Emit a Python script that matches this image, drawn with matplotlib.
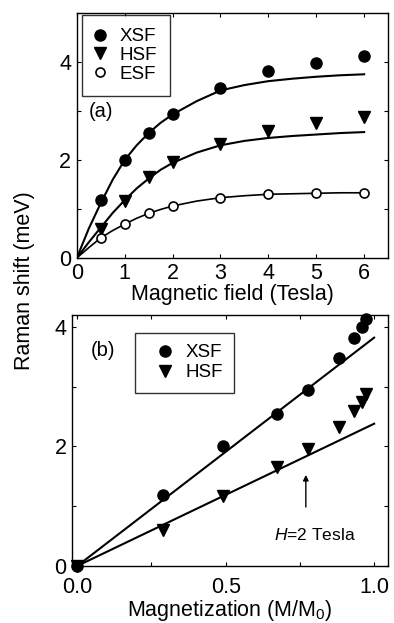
import matplotlib.pyplot as plt
from matplotlib.ticker import MultipleLocator

plt.rcParams['font.family'] = ['Liberation Sans', 'DejaVu Sans']
plt.rcParams['mathtext.fontset'] = 'custom'
plt.rcParams['mathtext.rm'] = 'Liberation Sans'
plt.rcParams['mathtext.it'] = 'Liberation Sans:italic'

# panel (a): Raman shift vs magnetic field
field = [0.5, 1, 1.5, 2, 3, 4, 5, 6]
xsf = [1.19, 2.0, 2.55, 2.94, 3.48, 3.81, 3.99, 4.13]
hsf = [0.6, 1.17, 1.65, 1.95, 2.33, 2.6, 2.75, 2.88]
esf = [0.41, 0.69, 0.92, 1.06, 1.23, 1.31, 1.33, 1.33]

# fitted curves
fit_field = [0, 0.25, 0.5, 0.75, 1, 1.25, 1.5, 1.75, 2, 2.5, 3, 3.5, 4, 4.5, 5, 5.5, 6]
fit_xsf = [0, 0.6, 1.12, 1.6, 2.0, 2.3, 2.55, 2.76, 2.93, 3.2, 3.42, 3.53, 3.61, 3.66, 3.7, 3.73, 3.75]
fit_hsf = [0, 0.32, 0.62, 0.92, 1.18, 1.42, 1.62, 1.8, 1.94, 2.15, 2.3, 2.39, 2.45, 2.49, 2.52, 2.55, 2.57]
fit_esf = [0, 0.21, 0.41, 0.56, 0.69, 0.81, 0.91, 0.99, 1.06, 1.16, 1.23, 1.27, 1.3, 1.31, 1.32, 1.33, 1.33]

# panel (b): Raman shift vs magnetization
magn = [0, 0.289, 0.49, 0.672, 0.778, 0.882, 0.933, 0.958, 0.972]
xsf_b = [0, 1.19, 2.0, 2.55, 2.94, 3.48, 3.81, 3.99, 4.13]
hsf_b = [0, 0.6, 1.17, 1.65, 1.95, 2.33, 2.6, 2.75, 2.88]
line_m = [0, 1.0]
line_xsf = [0, 3.82]
line_hsf = [0, 2.38]

fig = plt.figure(figsize=(3.94, 6.23), dpi=100)
ax1 = fig.add_axes([0.195, 0.586, 0.790, 0.393])
ax2 = fig.add_axes([0.183, 0.0915, 0.802, 0.403])

ms = 8
ax1.plot(fit_field, fit_xsf, color='black', lw=1.5)
ax1.plot(fit_field, fit_hsf, color='black', lw=1.5)
ax1.plot(fit_field, fit_esf, color='black', lw=1.2)
ax1.plot(field, xsf, 'o', color='black', ms=ms, label='XSF')
ax1.plot(field, hsf, 'v', color='black', ms=ms, label='HSF')
ax1.plot(field, esf, 'o', mfc='white', mec='black', mew=1.2, ms=6.5, label='ESF')
ax1.set_xlim(0, 6.5)
ax1.set_ylim(0, 5)
ax1.xaxis.set_major_locator(MultipleLocator(1))
ax1.yaxis.set_major_locator(MultipleLocator(2))
ax1.yaxis.set_minor_locator(MultipleLocator(1))
ax1.set_xlabel('Magnetic field (Tesla)', fontsize=15.5, labelpad=0)
ax1.text(0.25, 3.0, '(a)', fontsize=14.5, va='center')
leg1 = ax1.legend(loc='upper left', bbox_to_anchor=(0.016, 0.992), borderaxespad=0,
                  fontsize=13.5, frameon=True, fancybox=False, edgecolor='black',
                  handletextpad=0.8, labelspacing=0.08, borderpad=0.7, handlelength=0.52)
leg1.get_frame().set_linewidth(1.0)

ax2.plot(line_m, line_xsf, color='black', lw=1.5)
ax2.plot(line_m, line_hsf, color='black', lw=1.5)
ax2.plot(magn, xsf_b, 'o', color='black', ms=ms, label='XSF', clip_on=False)
ax2.plot(magn, hsf_b, 'v', color='black', ms=ms, label='HSF', clip_on=False)
ax2.set_xlim(-0.017, 1.047)
ax2.set_ylim(0, 4.2)
ax2.xaxis.set_major_locator(MultipleLocator(0.5))
ax2.xaxis.set_minor_locator(MultipleLocator(0.25))
ax2.yaxis.set_major_locator(MultipleLocator(2))
ax2.yaxis.set_minor_locator(MultipleLocator(1))
ax2.xaxis.set_major_formatter(plt.FormatStrFormatter('%.1f'))
ax2.set_xlabel('Magnetization (M/M$_0$)', fontsize=15.5, labelpad=0)
ax2.text(0.047, 3.61, '(b)', fontsize=14.5, va='center')
ax2.annotate('', xy=(0.77, 1.57), xytext=(0.77, 0.94),
             arrowprops=dict(arrowstyle='-|>', color='black', lw=1.0, mutation_scale=8))
ax2.text(0.80, 0.52, '$\\it{H}$=2 Tesla', fontsize=12.5, ha='center', va='center')
leg2 = ax2.legend(loc='upper left', bbox_to_anchor=(0.2, 0.928), borderaxespad=0,
                  fontsize=13.5, frameon=True, fancybox=False, edgecolor='black',
                  handletextpad=0.07, labelspacing=0.15, borderpad=0.6, handlelength=2.0)
leg2.get_frame().set_linewidth(1.0)

for ax in (ax1, ax2):
    ax.tick_params(which='both', direction='in', top=True, right=True,
                   labelsize=15.5, length=3.2, width=0.8)
    ax.tick_params(axis='y', pad=4)
    for s in ax.spines.values():
        s.set_linewidth(1.0)
ax1.tick_params(axis='x', pad=3.5)
ax2.tick_params(axis='x', pad=8)

fig.text(0.061, 0.55, 'Raman shift (meV)', rotation=90, fontsize=15.5,
         ha='center', va='center')

fig.savefig('out.png', dpi=100)
